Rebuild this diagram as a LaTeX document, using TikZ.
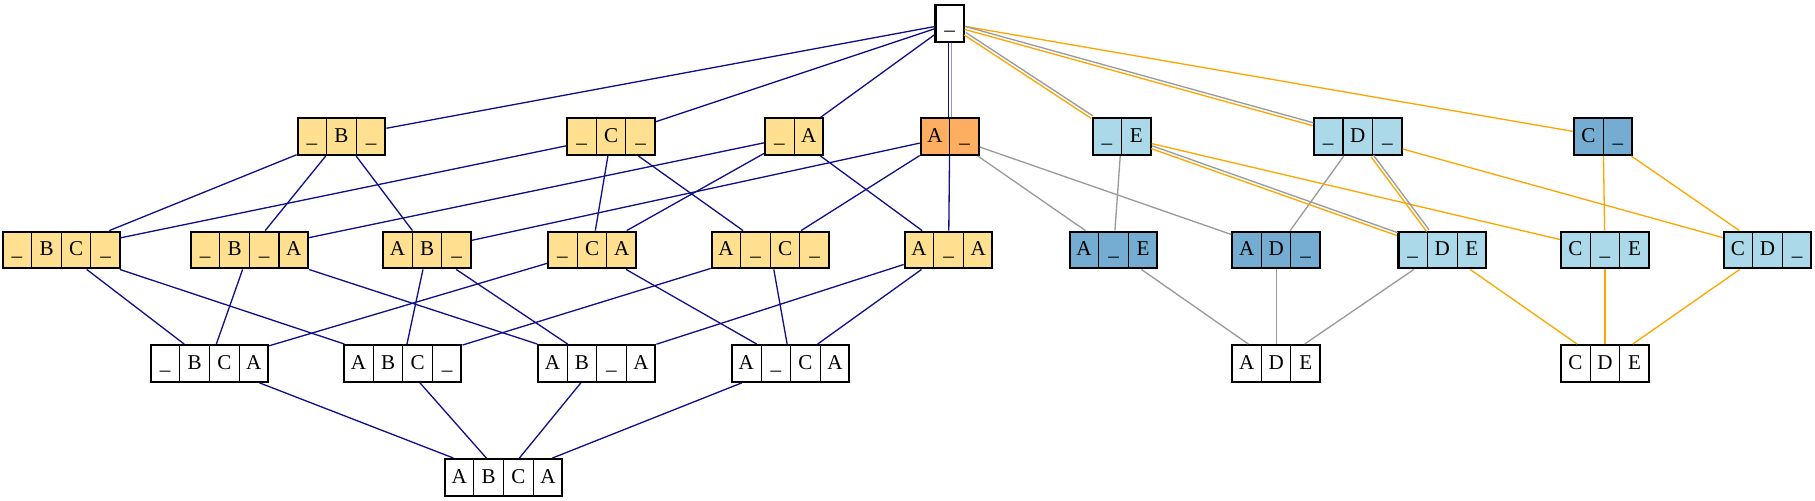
\documentclass[tikz,border=0pt]{standalone}
\usepackage{fontspec}
\setmainfont{Liberation Serif}
\usepackage{xcolor}
\usepackage{tikz}

\definecolor{cellyellow}{HTML}{FEE090}
\definecolor{cellorange}{HTML}{FDAE61}
\definecolor{celllight}{HTML}{ABD9E9}
\definecolor{cellsteel}{HTML}{74ADD1}
\definecolor{linenavy}{HTML}{10108A}
\definecolor{linegray}{HTML}{9A9A9A}
\definecolor{lineorange}{HTML}{FFA500}

% one row of letter cells, thin rules between them
\newcommand{\boxrow}[1]{%
  \rule[-0.25cm]{0pt}{0.735cm}%
  \foreach \c [count=\i] in {#1}{\ifnum\i>1 \vrule width 0.6pt\relax\fi\makebox[0.57cm]{\c}}}

\begin{document}
\begin{tikzpicture}[x=0.02315cm, y=-0.02315cm,
    cell/.style={draw, rectangle, line width=1.2pt, inner sep=0pt, font=\fontsize{12}{14}\selectfont},
    navyedge/.style={linenavy, line width=0.75pt},
    grayedge/.style={linegray, line width=0.75pt},
    orangeedge/.style={lineorange, line width=0.75pt}]
                \useasboundingbox (0,0) rectangle (1568,432);
                % top
                \node[cell, fill=white] (root) at (820.5,20.5) {\boxrow{\_}};
                % first row
                \node[cell, fill=cellyellow] (xBx) at (295,118) {\boxrow{\_,B,\_}};
                \node[cell, fill=cellyellow] (xCx) at (528,118) {\boxrow{\_,C,\_}};
                \node[cell, fill=cellyellow] (xA) at (686,118) {\boxrow{\_,A}};
                \node[cell, fill=cellorange] (Ax) at (820.5,118) {\boxrow{A,\_}};
                \node[cell, fill=celllight] (xE) at (969,118) {\boxrow{\_,E}};
                \node[cell, fill=celllight] (xDx) at (1173,118) {\boxrow{\_,D,\_}};
                \node[cell, fill=cellsteel] (Cx) at (1385,118) {\boxrow{C,\_}};
                % second row
                \node[cell, fill=cellyellow] (xBCx) at (53,216) {\boxrow{\_,B,C,\_}};
                \node[cell, fill=cellyellow] (xBxA) at (215.5,216) {\boxrow{\_,B,\_,A}};
                \node[cell, fill=cellyellow] (ABx) at (369,216) {\boxrow{A,B,\_}};
                \node[cell, fill=cellyellow] (xCA) at (511.5,216) {\boxrow{\_,C,A}};
                \node[cell, fill=cellyellow] (AxCx) at (665.5,216) {\boxrow{A,\_,C,\_}};
                \node[cell, fill=cellyellow] (AxA) at (819.5,216) {\boxrow{A,\_,A}};
                \node[cell, fill=cellsteel] (AxE) at (962,216) {\boxrow{A,\_,E}};
                \node[cell, fill=cellsteel] (ADx) at (1102.5,216) {\boxrow{A,D,\_}};
                \node[cell, fill=celllight] (xDE) at (1246,216) {\boxrow{\_,D,E}};
                \node[cell, fill=celllight] (CxE) at (1386.5,216) {\boxrow{C,\_,E}};
                \node[cell, fill=celllight] (CDx) at (1527,216) {\boxrow{C,D,\_}};
                % third row
                \node[cell, fill=white] (xBCA) at (181,314) {\boxrow{\_,B,C,A}};
                \node[cell, fill=white] (ABCx) at (348,314) {\boxrow{A,B,C,\_}};
                \node[cell, fill=white] (ABxA) at (515.5,314) {\boxrow{A,B,\_,A}};
                \node[cell, fill=white] (AxCA) at (683,314) {\boxrow{A,\_,C,A}};
                \node[cell, fill=white] (ADE) at (1102.5,314) {\boxrow{A,D,E}};
                \node[cell, fill=white] (CDE) at (1386.5,314) {\boxrow{C,D,E}};
                % bottom
                \node[cell, fill=white] (ABCA) at (435,412.5) {\boxrow{A,B,C,A}};

                % A B C A
                \foreach \a/\b in {root/xBx, root/xCx, root/xA,
                    xBx/xBCx, xBx/xBxA, xBx/ABx, xCx/xBCx, xCx/xCA, xCx/AxCx,
                    xA/xBxA, xA/xCA, xA/AxA, Ax/ABx, Ax/AxCx, Ax/AxA,
                    xBCx/xBCA, xBCx/ABCx, xBxA/xBCA, xBxA/ABxA, ABx/ABCx, ABx/ABxA,
                    xCA/xBCA, xCA/AxCA, AxCx/ABCx, AxCx/AxCA, AxA/ABxA, AxA/AxCA,
                    xBCA/ABCA, ABCx/ABCA, ABxA/ABCA, AxCA/ABCA}
                    \draw[navyedge] (\a) -- (\b);
                % A D E
                \foreach \a/\b in {Ax/AxE, Ax/ADx, xE/AxE, xDx/ADx,
                    AxE/ADE, ADx/ADE, xDE/ADE}
                    \draw[grayedge] (\a) -- (\b);
                % C D E
                \foreach \a/\b in {root/Cx, xE/CxE, xDx/CDx, Cx/CxE, Cx/CDx,
                    xDE/CDE, CxE/CDE, CDx/CDE}
                    \draw[orangeedge] (\a) -- (\b);
                % shared edges
                \draw[navyedge, transform canvas={xshift=-0.85pt}] (root) -- (Ax);
                \draw[grayedge, transform canvas={xshift=0.85pt}] (root) -- (Ax);
                \draw[grayedge, transform canvas={shift={(0.47pt,0.71pt)}}] (root) -- (xE);
                \draw[orangeedge, transform canvas={shift={(-0.47pt,-0.71pt)}}] (root) -- (xE);
                \draw[grayedge, transform canvas={shift={(0.23pt,0.82pt)}}] (root) -- (xDx);
                \draw[orangeedge, transform canvas={shift={(-0.23pt,-0.82pt)}}] (root) -- (xDx);
                \draw[grayedge, transform canvas={shift={(0.28pt,0.8pt)}}] (xE) -- (xDE);
                \draw[orangeedge, transform canvas={shift={(-0.28pt,-0.8pt)}}] (xE) -- (xDE);
                \draw[grayedge, transform canvas={shift={(0.68pt,0.51pt)}}] (xDx) -- (xDE);
                \draw[orangeedge, transform canvas={shift={(-0.68pt,-0.51pt)}}] (xDx) -- (xDE);
            \end{tikzpicture}
\end{document}
